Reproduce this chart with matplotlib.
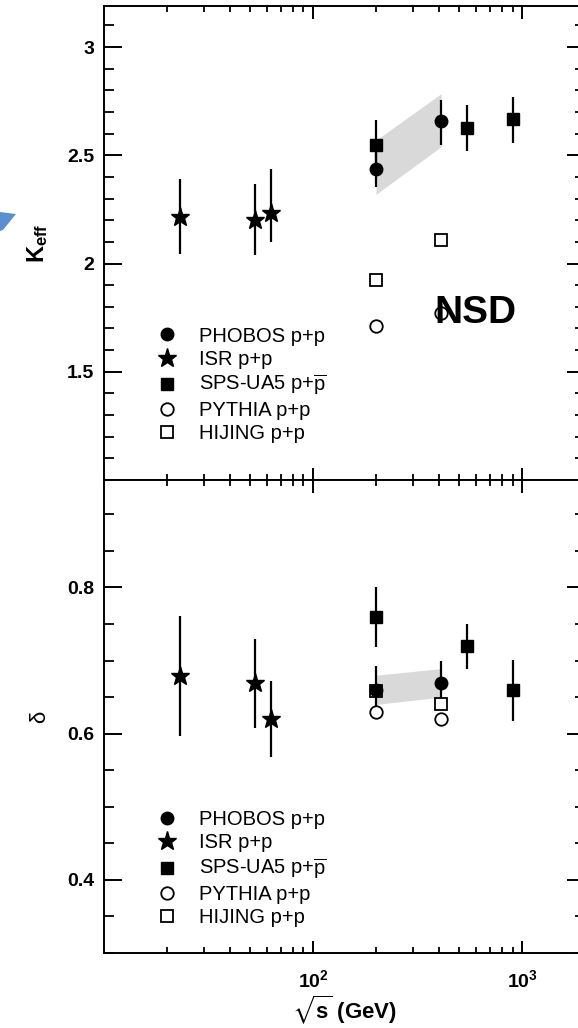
import numpy as np
import matplotlib.pyplot as plt
from matplotlib.patches import Polygon
from matplotlib.ticker import MultipleLocator, LogLocator, NullFormatter

plt.rcParams['font.family'] = ['Liberation Sans', 'DejaVu Sans']
plt.rcParams['mathtext.fontset'] = 'custom'
plt.rcParams['mathtext.rm'] = 'Liberation Sans'
plt.rcParams['mathtext.bf'] = 'Liberation Sans:bold'
plt.rcParams['mathtext.it'] = 'Liberation Sans:italic'
plt.rcParams['mathtext.fallback'] = 'stixsans'

# sqrt(s) in GeV
isr_x = [23, 53, 63]
phobos_x = [200, 410]
ua5_x = [200, 546, 900]
pythia_x = [200, 410]
hijing_x_k = [200, 410]
hijing_x_d = [200, 410]
band_x = [200, 410]

# K_eff panel
isr_k = [2.216, 2.203, 2.234]
isr_k_lo = [0.174, 0.162, 0.134]
isr_k_hi = [0.174, 0.166, 0.205]
phobos_k = [2.436, 2.657]
phobos_k_lo = [0.082, 0.108]
phobos_k_hi = [0.082, 0.100]
ua5_k = [2.546, 2.626, 2.666]
ua5_k_lo = [0.118, 0.108, 0.109]
ua5_k_hi = [0.118, 0.105, 0.103]
pythia_k = [1.712, 1.77]
hijing_k = [1.923, 2.108]
band_k_lo = [2.32, 2.54]
band_k_hi = [2.57, 2.785]

# delta panel
isr_d = [0.679, 0.670, 0.620]
isr_d_lo = [0.082, 0.062, 0.052]
isr_d_hi = [0.082, 0.059, 0.052]
phobos_d = [0.660, 0.670]
phobos_d_lo = [0.030, 0.030]
phobos_d_hi = [0.032, 0.030]
ua5_d = [0.760, 0.720, 0.660]
ua5_d_lo = [0.042, 0.031, 0.042]
ua5_d_hi = [0.041, 0.030, 0.041]
pythia_d = [0.630, 0.620]
hijing_d = [0.658, 0.640]
band_d_lo = [0.640, 0.650]
band_d_hi = [0.680, 0.689]

labels = ['PHOBOS p+p', 'ISR p+p', r'SPS-UA5 p+$\overline{\mathrm{p}}$', 'PYTHIA p+p', 'HIJING p+p']
xtick_vals = [100, 1000]
xtick_labels = [r'$\mathbf{10^{2}}$', r'$\mathbf{10^{3}}$']
k_ticks = [1.5, 2, 2.5, 3]
k_tick_labels = ['1.5', '2', '2.5', '3']
d_ticks = [0.4, 0.6, 0.8]
d_tick_labels = ['0.4', '0.6', '0.8']


def draw(ax, isr, isr_lo, isr_hi, ph, ph_lo, ph_hi, ua, ua_lo, ua_hi, py, hj, hj_x, blo, bhi):
    ax.fill_between(band_x, blo, bhi, color='#d9d9d9', lw=0, zorder=1)
    ekw = dict(fmt='none', ecolor='k', elinewidth=1.6, capsize=0, zorder=2)
    ax.errorbar(isr_x, isr, yerr=[isr_lo, isr_hi], **ekw)
    ax.errorbar(phobos_x, ph, yerr=[ph_lo, ph_hi], **ekw)
    ax.errorbar(ua5_x, ua, yerr=[ua_lo, ua_hi], **ekw)
    h4 = ax.plot(pythia_x, py, 'o', ms=9, mfc='white', mec='k', mew=1.3, ls='none', zorder=3)[0]
    h5 = ax.plot(hj_x, hj, 's', ms=9, mfc='white', mec='k', mew=1.3, ls='none', zorder=3)[0]
    h2 = ax.plot(isr_x, isr, '*', ms=14, color='k', ls='none', zorder=4)[0]
    h3 = ax.plot(ua5_x, ua, 's', ms=8.5, color='k', ls='none', zorder=4)[0]
    h1 = ax.plot(phobos_x, ph, 'o', ms=9, color='k', ls='none', zorder=4)[0]
    return [h1, h2, h3, h4, h5]


fig, (ax1, ax2) = plt.subplots(2, 1, sharex=True, figsize=(5.78, 10.28), dpi=100)
ax1.set_position([104/578, 1-480/1028, 481/578, 474/1028])
ax2.set_position([104/578, 1-953/1028, 481/578, 473/1028])

hk = draw(ax1, isr_k, isr_k_lo, isr_k_hi, phobos_k, phobos_k_lo, phobos_k_hi,
          ua5_k, ua5_k_lo, ua5_k_hi, pythia_k, hijing_k, hijing_x_k, band_k_lo, band_k_hi)
hd = draw(ax2, isr_d, isr_d_lo, isr_d_hi, phobos_d, phobos_d_lo, phobos_d_hi,
          ua5_d, ua5_d_lo, ua5_d_hi, pythia_d, hijing_d, hijing_x_d, band_d_lo, band_d_hi)

for ax in (ax1, ax2):
    ax.set_xscale('log')
    ax.set_xlim(10, 2000)
    ax.xaxis.set_minor_locator(LogLocator(base=10, subs=np.arange(2, 10)))
    ax.xaxis.set_minor_formatter(NullFormatter())
    ax.tick_params(which='both', direction='in', top=True, right=True)
    ax.tick_params(axis='x', which='major', length=9, width=1.4, pad=12)
    ax.tick_params(axis='x', which='minor', length=4.5, width=1.3)
    ax.tick_params(axis='y', which='major', length=13, width=1.4, pad=7)
    ax.tick_params(axis='y', which='minor', length=7, width=1.3)
    for s in ax.spines.values():
        s.set_linewidth(1.4)

ax2.set_xticks(xtick_vals, labels=xtick_labels, fontsize=14)
ax1.tick_params(axis='x', labelbottom=False)

ax1.set_ylim(1.0, 3.19)
ax1.set_yticks(k_ticks, labels=k_tick_labels, fontsize=14, fontweight='bold')
ax1.yaxis.set_minor_locator(MultipleLocator(0.1))
ax2.set_ylim(0.3, 0.947)
ax2.set_yticks(d_ticks, labels=d_tick_labels, fontsize=14, fontweight='bold')
ax2.yaxis.set_minor_locator(MultipleLocator(0.05))

ax1.set_ylabel(r'$\mathbf{K_{eff}}$', fontsize=17)
ax1.yaxis.set_label_coords(-0.112, 0.5)
ax2.set_ylabel('δ', fontsize=16)
ax2.yaxis.set_label_coords(-0.112, 0.5)
ax2.set_xlabel(r'$\sqrt{\mathbf{s}}$ (GeV)', fontsize=16, fontweight='bold', va='center')
ax2.xaxis.set_label_coords(0.5, -0.12)

ax1.text(0.773, 0.331, 'NSD', transform=ax1.transAxes, ha='center', va='baseline',
         fontsize=28, fontweight='bold', zorder=10)

lkw = dict(loc='upper left', frameon=False, fontsize=14.5, handlelength=1.0,
           handletextpad=1.05, labelspacing=0.2, borderpad=0, numpoints=1)
ax1.legend(hk, labels, bbox_to_anchor=(0.090, 0.345), **lkw)
ax2.legend(hd, labels, bbox_to_anchor=(0.090, 0.323), **lkw)

# blue arrow fragment at the left edge
pts = [(0, 212), (16, 214), (3, 230), (0, 231)]
fig.add_artist(Polygon([(x/578, 1-y/1028) for x, y in pts], closed=True,
                       transform=fig.transFigure, color='#5b8fd0', lw=0))

fig.savefig('out.png', dpi=100)
